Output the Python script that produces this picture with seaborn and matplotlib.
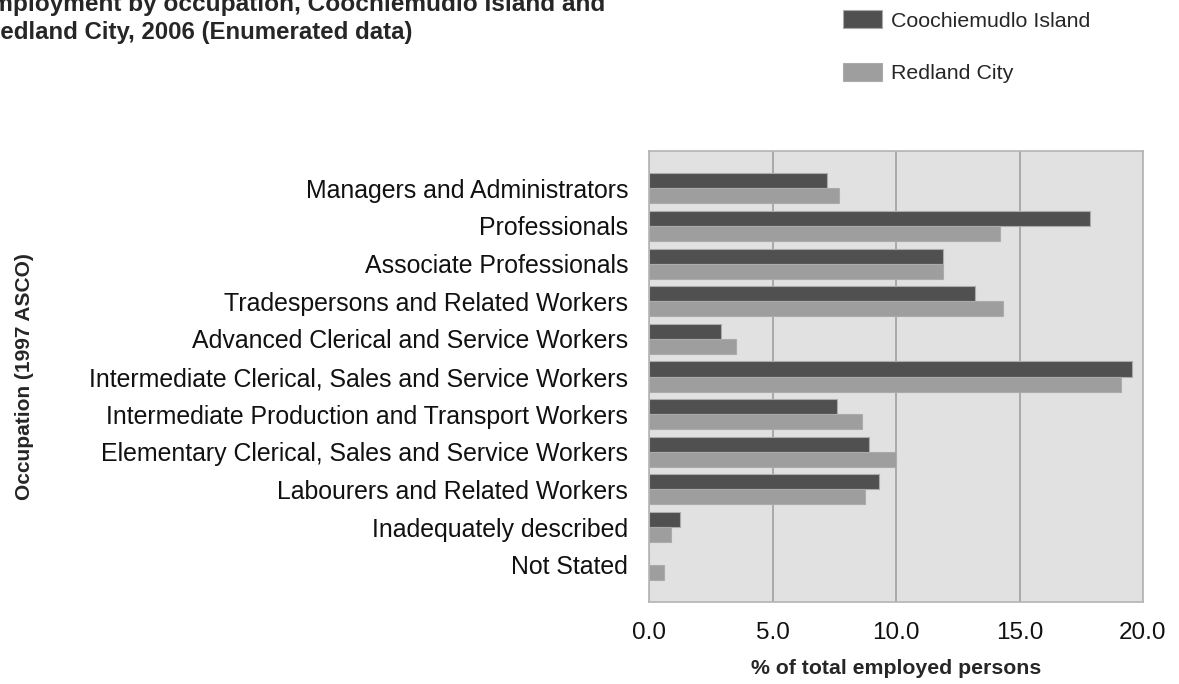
import numpy as np
import pandas as pd
import matplotlib
matplotlib.use("Agg")
import matplotlib.pyplot as plt
import seaborn as sns
from matplotlib.patches import Patch

occupations = [
    "Managers and Administrators",
    "Professionals",
    "Associate Professionals",
    "Tradespersons and Related Workers",
    "Advanced Clerical and Service Workers",
    "Intermediate Clerical, Sales and Service Workers",
    "Intermediate Production and Transport Workers",
    "Elementary Clerical, Sales and Service Workers",
    "Labourers and Related Workers",
    "Inadequately described",
    "Not Stated",
]
coochiemudlo = [7.2, 17.86, 11.89, 13.19, 2.93, 19.55, 7.63, 8.91, 9.32, 1.24, 0.0]
redland = [7.68, 14.23, 11.89, 14.35, 3.51, 19.1, 8.63, 10.0, 8.75, 0.89, 0.61]
areas = ["Coochiemudlo Island", "Redland City"]
xticks = [0, 5, 10, 15, 20]

df = pd.DataFrame({
    "occupation": occupations * 2,
    "pct": coochiemudlo + redland,
    "area": [areas[0]] * len(occupations) + [areas[1]] * len(occupations),
})

sns.set_style("white")
plt.rcParams["font.family"] = ["Liberation Sans", "DejaVu Sans"]

dark = "#505050"
light = "#9e9e9e"
W, H = 1179, 684
fig = plt.figure(figsize=(W / 100, H / 100), dpi=100)
ax = fig.add_axes([649 / W, 1 - 602.3 / H, (1143 - 649) / W, (602.3 - 150.7) / H])
ax.set_facecolor("#e1e1e1")

sns.barplot(data=df, y="occupation", x="pct", hue="area", order=occupations,
            palette=[dark, light], orient="h", width=0.8, saturation=1,
            edgecolor="#ababab", linewidth=0.8, ax=ax, legend=False)

ax.set_xlim(0, 20)
ax.set_ylim(11, -1)
ax.set_xticks(xticks)
ax.set_xticklabels([f"{v:.1f}" for v in xticks], fontsize=17.5)
ax.set_yticks(range(-1, 12))
ax.set_yticklabels([""] + occupations + [""], fontsize=17.9)
ax.grid(axis="x", color="#a0a0a0", linewidth=1.2)
ax.set_axisbelow(True)
for s in ax.spines.values():
    s.set_color("#b4b4b4")
    s.set_linewidth(1.2)
ax.tick_params(axis="y", length=9.5, width=1, color="#a0a0a0", pad=5.5)
ax.tick_params(axis="x", length=4.5, width=1, color="#a0a0a0", pad=10)
for lbl in ax.get_xticklabels() + ax.get_yticklabels():
    lbl.set_color("#111111")

ax.set_xlabel("% of total employed persons", fontsize=15.3, fontweight="bold")
ax.xaxis.set_label_coords(0.5, -0.125)
ax.set_ylabel("Occupation (1997 ASCO)", fontsize=15, fontweight="bold")
ax.yaxis.set_label_coords(-1.245, 0.5)

# title is cut off at the left/top edge in the source image
fig.text(-25 / W, 1 - 11 / H, "Employment by occupation, Coochiemudlo Island and",
         fontsize=17.6, fontweight="bold", ha="left", va="baseline")
fig.text(-17 / W, 1 - 39 / H, "Redland City, 2006 (Enumerated data)",
         fontsize=17.3, fontweight="bold", ha="left", va="baseline")

handles = [Patch(facecolor=dark, edgecolor="#ababab", linewidth=0.8),
           Patch(facecolor=light, edgecolor="#ababab", linewidth=0.8)]
fig.legend(handles, areas, loc="upper left", bbox_to_anchor=(843 / W, 1 - 10 / H),
           frameon=False, fontsize=15.4, borderpad=0, borderaxespad=0,
           handlelength=1.8, handleheight=0.95, handletextpad=0.45, labelspacing=1.5)

fig.savefig("out.png", dpi=100)
